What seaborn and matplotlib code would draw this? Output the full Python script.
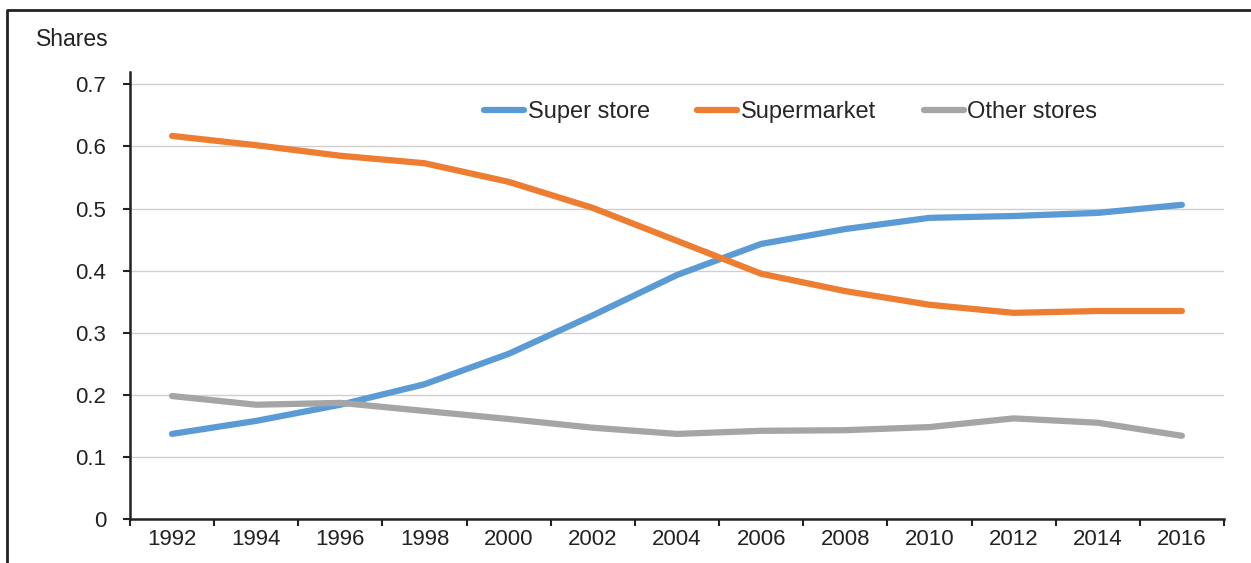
import numpy as np
import pandas as pd
import seaborn as sns
import matplotlib.pyplot as plt
from matplotlib.lines import Line2D
from matplotlib.ticker import FixedLocator

years = ['1992', '1994', '1996', '1998', '2000', '2002', '2004',
         '2006', '2008', '2010', '2012', '2014', '2016']
super_store = [0.137, 0.158, 0.184, 0.217, 0.266, 0.328, 0.393,
               0.443, 0.467, 0.485, 0.488, 0.493, 0.506]
supermarket = [0.617, 0.602, 0.585, 0.573, 0.543, 0.501, 0.448,
               0.395, 0.367, 0.345, 0.332, 0.335, 0.335]
other_stores = [0.198, 0.184, 0.187, 0.174, 0.161, 0.147, 0.137,
                0.142, 0.143, 0.148, 0.162, 0.155, 0.134]
series_names = ['Super store', 'Supermarket', 'Other stores']
colors = ['#5B9BD5', '#ED7D31', '#A5A5A5']

df = pd.DataFrame({'year': years, 'Super store': super_store,
                   'Supermarket': supermarket, 'Other stores': other_stores})
long = df.melt(id_vars='year', var_name='series', value_name='share')

sns.set_style('white')
plt.rcParams['font.family'] = ['Liberation Sans', 'DejaVu Sans']

fig = plt.figure(figsize=(12.51, 5.63), dpi=100)
ax = fig.add_axes([0.1039, 0.0782, 0.8745, 0.794])

sns.lineplot(data=long, x='year', y='share', hue='series', hue_order=series_names,
             palette=colors, linewidth=4.5, ax=ax, sort=False)
for ln in ax.get_lines():
    ln.set_solid_capstyle('round')
    ln.set_solid_joinstyle('round')

ax.set_xlim(-0.5, len(years) - 0.5)
ax.set_ylim(0, 0.72)
ax.set_yticks([0, 0.1, 0.2, 0.3, 0.4, 0.5, 0.6, 0.7])
ax.set_yticklabels(['0', '0.1', '0.2', '0.3', '0.4', '0.5', '0.6', '0.7'])
ax.set_xticks(range(len(years)))
ax.set_xticklabels(years)
ax.xaxis.set_minor_locator(FixedLocator(np.arange(-0.5, len(years), 1.0)))
ax.tick_params(axis='x', which='major', length=0, pad=7, labelsize=16, colors='#222222')
ax.tick_params(axis='x', which='minor', bottom=True, length=5, width=1.5, direction='out', color='#222222')
ax.tick_params(axis='y', which='major', left=True, length=5, width=1.5, direction='out',
               pad=12, labelsize=16, colors='#222222')
ax.grid(axis='y', color='#D0D0D0', linewidth=1)
ax.set_axisbelow(True)
for s in ['top', 'right']:
    ax.spines[s].set_visible(False)
for s in ['left', 'bottom']:
    ax.spines[s].set_color('#222222')
    ax.spines[s].set_linewidth(1.8)
ax.set_xlabel('')
ax.set_ylabel('')

handles, labels = ax.get_legend_handles_labels()
ax.legend(handles, labels, loc='center', bbox_to_anchor=(0.604, 0.91), ncol=3,
          frameon=False, fontsize=17, handlelength=1.7, handletextpad=0.15,
          columnspacing=2.0)

fig.text(0.029, 0.929, 'Shares', fontsize=16.5, color='#222222', va='center', ha='left')

# frame around the figure (top and left edges)
fig.add_artist(Line2D([0.0056, 0.0056, 1.0], [0.0, 0.982, 0.982],
                      transform=fig.transFigure, color='#222222', linewidth=2))

fig.savefig('out.png', dpi=100)
